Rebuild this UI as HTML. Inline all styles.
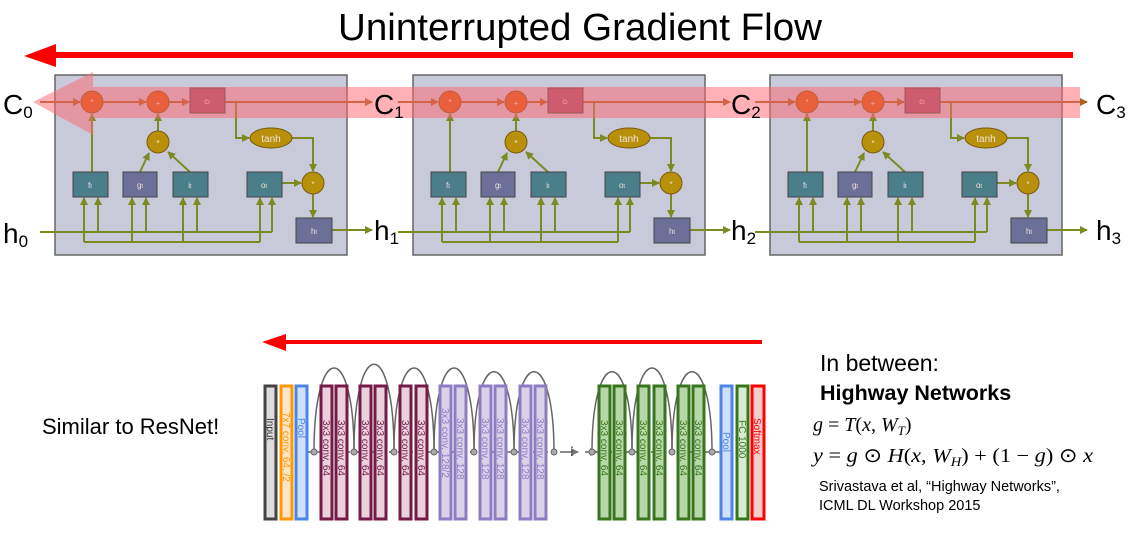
<!DOCTYPE html>
<html><head><style>
body{margin:0;background:#fff;width:1141px;height:536px;overflow:hidden}
svg{display:block}
</style></head><body>
<svg width="1141" height="536" viewBox="0 0 1141 536" xmlns="http://www.w3.org/2000/svg" font-family="Liberation Sans, sans-serif">
<defs>
<marker id="ao" markerWidth="8" markerHeight="8" refX="7" refY="4" orient="auto" markerUnits="userSpaceOnUse"><path d="M0,0 L8,4 L0,8 z" fill="#a86420"/></marker>
<marker id="ag" markerWidth="8" markerHeight="8" refX="7" refY="4" orient="auto" markerUnits="userSpaceOnUse"><path d="M0,0 L8,4 L0,8 z" fill="#7d8a22"/></marker>
<marker id="ak" markerWidth="8" markerHeight="8" refX="7" refY="4" orient="auto" markerUnits="userSpaceOnUse"><path d="M0,0 L8,4 L0,8 z" fill="#777"/></marker>
<g id="cell">
<rect x="55" y="75" width="292" height="180" fill="#c8cad9" stroke="#666" stroke-width="1.5"/>
<g stroke="#a86420" stroke-width="2" fill="none">
<line x1="40" y1="102" x2="80" y2="102" marker-end="url(#ao)"/>
<line x1="103" y1="102" x2="146" y2="102" marker-end="url(#ao)"/>
<line x1="169" y1="102" x2="189" y2="102" marker-end="url(#ao)"/>
<line x1="225" y1="102" x2="372" y2="102" marker-end="url(#ao)"/>
</g>
<g stroke="#7d8a22" stroke-width="2" fill="none">
<polyline points="236,102 236,138 249,138" marker-end="url(#ag)"/>
<polyline points="292,138 313,138 313,171" marker-end="url(#ag)"/>
<line x1="92" y1="172" x2="92" y2="114" marker-end="url(#ag)"/>
<line x1="158" y1="131" x2="158" y2="114" marker-end="url(#ag)"/>
<line x1="140" y1="172" x2="149" y2="153" marker-end="url(#ag)"/>
<line x1="190" y1="172" x2="168" y2="152" marker-end="url(#ag)"/>
<line x1="282" y1="183" x2="301" y2="183" marker-end="url(#ag)"/>
<line x1="313" y1="194" x2="313" y2="217" marker-end="url(#ag)"/>
<line x1="332" y1="230" x2="372" y2="230" marker-end="url(#ag)"/>
<line x1="40" y1="232" x2="272" y2="232"/>
<line x1="98" y1="232" x2="98" y2="198" marker-end="url(#ag)"/>
<line x1="146" y1="232" x2="146" y2="198" marker-end="url(#ag)"/>
<line x1="197" y1="232" x2="197" y2="198" marker-end="url(#ag)"/>
<line x1="272" y1="232" x2="272" y2="198" marker-end="url(#ag)"/>
<polyline points="84,242 260,242"/>
<line x1="84" y1="242" x2="84" y2="198" marker-end="url(#ag)"/>
<line x1="132" y1="242" x2="132" y2="198" marker-end="url(#ag)"/>
<line x1="183" y1="242" x2="183" y2="198" marker-end="url(#ag)"/>
<line x1="260" y1="242" x2="260" y2="198" marker-end="url(#ag)"/>
</g>
<g stroke="#7a5a10" stroke-width="1">
<circle cx="92" cy="102" r="11" fill="#d25a08"/>
<circle cx="158" cy="102" r="11" fill="#d25a08"/>
<circle cx="158" cy="142" r="11" fill="#b8900a"/>
<circle cx="313" cy="183" r="11" fill="#b8900a"/>
<ellipse cx="271" cy="138" rx="21" ry="10" fill="#b8900a"/>
</g>
<g stroke="#444" stroke-width="1">
<rect x="190" y="88" width="35" height="25" fill="#9c5470"/>
<rect x="73" y="172" width="35" height="25" fill="#4a7e88"/>
<rect x="123" y="172" width="34" height="25" fill="#6c7098"/>
<rect x="173" y="172" width="35" height="25" fill="#4a7e88"/>
<rect x="247" y="172" width="35" height="25" fill="#4a7e88"/>
<rect x="296" y="218" width="36" height="25" fill="#6c7098"/>
</g>
<g fill="#f0e0e0" font-size="8" text-anchor="middle">
<text x="92" y="105">*</text><text x="158" y="106">+</text><text x="158" y="146">*</text><text x="313" y="187">*</text>
<text x="207" y="104">c<tspan font-size="5">t</tspan></text>
<text x="271" y="142" font-size="10">tanh</text>
<text x="90" y="188">f<tspan font-size="6">t</tspan></text>
<text x="140" y="188">g<tspan font-size="6">t</tspan></text>
<text x="190" y="188">i<tspan font-size="6">t</tspan></text>
<text x="264" y="188">o<tspan font-size="6">t</tspan></text>
<text x="314" y="234">h<tspan font-size="6">t</tspan></text>
</g>
</g>
</defs>
<text x="580" y="40" font-size="38" text-anchor="middle" fill="#000" textLength="484" lengthAdjust="spacingAndGlyphs">Uninterrupted Gradient Flow</text>
<line x1="1073" y1="55" x2="50" y2="55" stroke="#f00" stroke-width="6"/>
<path d="M24,56 L56,44 L56,67 z" fill="#f00"/>
<use href="#cell"/>
<use href="#cell" x="358"/>
<use href="#cell" x="715"/>
<rect x="93" y="87" width="987" height="31" fill="rgba(255,100,110,0.5)"/>
<path d="M93,72 L93,135 L33,102 z" fill="rgba(255,100,110,0.5)"/>
<g font-size="28" fill="#000">
<text x="3" y="114">C<tspan font-size="17" dy="4">0</tspan></text>
<text x="374" y="114">C<tspan font-size="17" dy="4">1</tspan></text>
<text x="731" y="114">C<tspan font-size="17" dy="4">2</tspan></text>
<text x="1096" y="114">C<tspan font-size="17" dy="4">3</tspan></text>
<text x="3" y="243">h<tspan font-size="17" dy="4">0</tspan></text>
<text x="374" y="240">h<tspan font-size="17" dy="4">1</tspan></text>
<text x="731" y="240">h<tspan font-size="17" dy="4">2</tspan></text>
<text x="1096" y="240">h<tspan font-size="17" dy="4">3</tspan></text>
</g>
<line x1="762" y1="342" x2="280" y2="342" stroke="#f00" stroke-width="4"/>
<path d="M262,342 L286,334 L286,351 z" fill="#f00"/>
<text x="42" y="434" font-size="22" fill="#000">Similar to ResNet!</text>
<g fill="none" stroke="#666" stroke-width="1.5">
<line x1="308" y1="452" x2="565" y2="452" stroke-dasharray="6,3"/>
<line x1="565" y1="452" x2="578" y2="452" marker-end="url(#ak)"/>
<line x1="585" y1="452" x2="597" y2="452" marker-end="url(#ak)"/>
<line x1="597" y1="452" x2="720" y2="452" stroke-dasharray="6,3"/>
<path d="M314,452 C314,340 354,340 354,452"/>
<path d="M354,452 C354,335 394,335 394,452"/>
<path d="M394,452 C394,340 434,340 434,452"/>
<path d="M434,452 C434,340 474,340 474,452"/>
<path d="M474,452 C474,345 514,345 514,452"/>
<path d="M514,452 C514,345 554,345 554,452"/>
<path d="M592,452 C592,345 632,345 632,452"/>
<path d="M632,452 C632,340 672,340 672,452"/>
<path d="M672,452 C672,345 712,345 712,452"/>
</g>
<g fill="#aaa" stroke="#666">
<circle cx="314" cy="452" r="3"/><circle cx="354" cy="452" r="3"/><circle cx="394" cy="452" r="3"/><circle cx="434" cy="452" r="3"/><circle cx="474" cy="452" r="3"/><circle cx="514" cy="452" r="3"/><circle cx="554" cy="452" r="3"/><circle cx="592" cy="452" r="3"/><circle cx="632" cy="452" r="3"/><circle cx="672" cy="452" r="3"/><circle cx="712" cy="452" r="3"/>
</g>
<text x="572" y="455" font-size="12" fill="#333" text-anchor="middle">⋮</text>
<g stroke-width="3" font-size="11">
<g stroke="#444" fill="#ddd"><rect x="265" y="386" width="11" height="133"/></g>
<g stroke="#f90" fill="#fde3c8"><rect x="281" y="386" width="11" height="133"/></g>
<g stroke="#4a86e8" fill="#cfe0f8"><rect x="296" y="386" width="11" height="133"/><rect x="721" y="386" width="11" height="133"/></g>
<g stroke="#741b47" fill="#ead1dc"><rect x="321" y="386" width="11" height="133"/><rect x="336" y="386" width="11" height="133"/><rect x="360" y="386" width="11" height="133"/><rect x="375" y="386" width="11" height="133"/><rect x="400" y="386" width="11" height="133"/><rect x="416" y="386" width="11" height="133"/></g>
<g stroke="#8e7cc3" fill="#d9d2e9"><rect x="440" y="386" width="11" height="133"/><rect x="455" y="386" width="11" height="133"/><rect x="480" y="386" width="11" height="133"/><rect x="495" y="386" width="11" height="133"/><rect x="520" y="386" width="11" height="133"/><rect x="535" y="386" width="11" height="133"/></g>
<g stroke="#38761d" fill="#b6d7a8"><rect x="599" y="386" width="11" height="133"/><rect x="614" y="386" width="11" height="133"/><rect x="638" y="386" width="11" height="133"/><rect x="654" y="386" width="11" height="133"/><rect x="678" y="386" width="11" height="133"/><rect x="693" y="386" width="11" height="133"/></g>
<g stroke="#38761d" fill="#d9ead3"><rect x="737" y="386" width="11" height="133"/></g>
<g stroke="#f00" fill="#f4cccc"><rect x="752" y="386" width="12" height="133"/></g>
</g>
<g font-size="10" stroke="none">
<text transform="translate(267,418) rotate(90)" fill="#333">Input</text>
<text transform="translate(283,412) rotate(90)" fill="#f90">7x7 conv, 64, /2</text>
<text transform="translate(298,418) rotate(90)" fill="#4a86e8">Pool</text>
<g fill="#741b47">
<text transform="translate(323,420) rotate(90)">3x3 conv, 64</text><text transform="translate(338,420) rotate(90)">3x3 conv, 64</text><text transform="translate(362,420) rotate(90)">3x3 conv, 64</text><text transform="translate(377,420) rotate(90)">3x3 conv, 64</text><text transform="translate(402,420) rotate(90)">3x3 conv, 64</text><text transform="translate(418,420) rotate(90)">3x3 conv, 64</text></g>
<g fill="#8e7cc3">
<text transform="translate(442,408) rotate(90)">3x3 conv, 128/2</text><text transform="translate(457,418) rotate(90)">3x3 conv, 128</text><text transform="translate(482,418) rotate(90)">3x3 conv, 128</text><text transform="translate(497,418) rotate(90)">3x3 conv, 128</text><text transform="translate(522,418) rotate(90)">3x3 conv, 128</text><text transform="translate(537,418) rotate(90)">3x3 conv, 128</text></g>
<g fill="#38761d">
<text transform="translate(601,420) rotate(90)">3x3 conv, 64</text><text transform="translate(616,420) rotate(90)">3x3 conv, 64</text><text transform="translate(640,420) rotate(90)">3x3 conv, 64</text><text transform="translate(656,420) rotate(90)">3x3 conv, 64</text><text transform="translate(680,420) rotate(90)">3x3 conv, 64</text><text transform="translate(695,420) rotate(90)">3x3 conv, 64</text>
<text transform="translate(739,420) rotate(90)">FC 1000</text></g>
<text transform="translate(723,432) rotate(90)" fill="#4a86e8">Pool</text>
<text transform="translate(754,418) rotate(90)" fill="#f00">Softmax</text>
</g>
<text x="820" y="371" font-size="23" fill="#000">In between:</text>
<text x="820" y="400" font-size="21.5" font-weight="bold" fill="#000">Highway Networks</text>
<g font-family="Liberation Serif, serif" font-size="20" fill="#000">
<text x="813" y="431"><tspan font-style="italic">g</tspan> = <tspan font-style="italic">T</tspan>(<tspan font-style="italic">x</tspan>, <tspan font-style="italic">W</tspan><tspan font-size="13" dy="4" font-style="italic">T</tspan><tspan dy="-4">)</tspan></text>
<text x="813" y="462" textLength="280" lengthAdjust="spacingAndGlyphs"><tspan font-style="italic">y</tspan> = <tspan font-style="italic">g</tspan> ⊙ <tspan font-style="italic">H</tspan>(<tspan font-style="italic">x</tspan>, <tspan font-style="italic">W</tspan><tspan font-size="13" dy="4" font-style="italic">H</tspan><tspan dy="-4">) + (1 − </tspan><tspan font-style="italic">g</tspan>) ⊙ <tspan font-style="italic">x</tspan></text>
</g>
<text x="819" y="491" font-size="14.5" fill="#000">Srivastava et al, “Highway Networks”,</text>
<text x="819" y="510" font-size="14.5" fill="#000">ICML DL Workshop 2015</text>
</svg>
</body></html>
